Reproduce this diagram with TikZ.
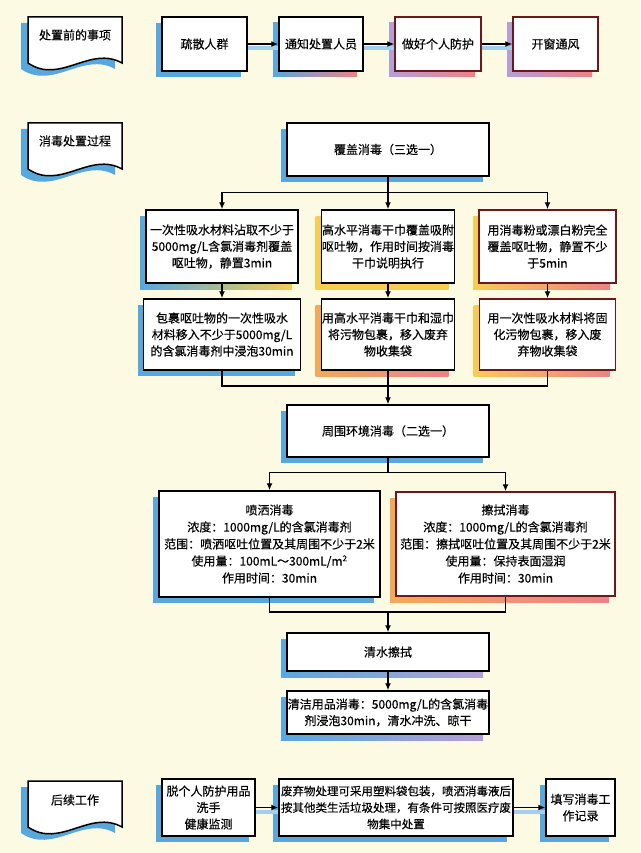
\documentclass[tikz,border=0pt]{standalone}
\usepackage{fontspec}
\setmainfont{Noto Sans CJK SC}[FakeBold=0.4]
\usetikzlibrary{arrows.meta,shadows}

\definecolor{bgcream}{RGB}{252,250,226}
\definecolor{sblue}{RGB}{88,168,222}
\definecolor{spink}{RGB}{236,130,135}
\definecolor{syellow}{RGB}{245,205,85}
\definecolor{sorange}{RGB}{242,170,90}
\definecolor{spurple}{RGB}{180,160,215}
\definecolor{bred}{RGB}{110,25,25}

\tikzset{
  box/.style={draw=black, line width=1.5pt, fill=white, align=center, inner sep=0.5pt,
    font=\fontsize{12}{16.5}\selectfont},
  blueshadow/.style={drop shadow={shadow xshift=-6pt, shadow yshift=-6pt, fill=sblue, opacity=1}},
  mixshadow/.style 2 args={drop shadow={shadow xshift=-6pt, shadow yshift=-6pt,
    left color=#1, right color=#2, opacity=1}},
  arr/.style={line width=1.3pt, -{Latex[length=7pt,width=6pt]}},
  line/.style={line width=1.3pt},
  glow/.style={line width=4pt, sblue!55},
  doc/.style={draw=black, line width=1.5pt, fill=white},
  doctext/.style={font=\fontsize{12}{16.5}\selectfont}
}

\begin{document}
\begin{tikzpicture}[x=1pt, y=-1pt]
    % Background
    \fill[bgcream] (0,0) rectangle (640,853);
    \useasboundingbox (0,0) rectangle (640,853);

    % Section labels (document shapes)
    \fill[sblue, shift={(-7,6)}] (28,17) -- (122,17) -- (122,63) .. controls (90,45) and (60,85) .. (28,63) -- cycle;
    \draw[doc] (28,17) -- (122,17) -- (122,63) .. controls (90,45) and (60,85) .. (28,63) -- cycle;
    \node[doctext] (secpre) at (75,35) {处置前的事项};

    \fill[sblue, shift={(-7,6)}] (28,123) -- (122,123) -- (122,169) .. controls (90,151) and (60,191) .. (28,169) -- cycle;
    \draw[doc] (28,123) -- (122,123) -- (122,169) .. controls (90,151) and (60,191) .. (28,169) -- cycle;
    \node[doctext] (secdis) at (75,141) {消毒处置过程};

    \fill[sblue, shift={(-7,6)}] (28,781) -- (122,781) -- (122,827) .. controls (90,809) and (60,849) .. (28,827) -- cycle;
    \draw[doc] (28,781) -- (122,781) -- (122,827) .. controls (90,809) and (60,849) .. (28,827) -- cycle;
    \node[doctext] (secpost) at (75,800) {后续工作};

    % Before disposal
    \node[box, blueshadow, minimum width=85pt, minimum height=54pt] (evac) at (204.5,44) {疏散人群};
    \node[box, mixshadow={sblue}{spink}, minimum width=84pt, minimum height=54pt] (notify) at (321,44) {通知处置人员};
    \node[box, draw=bred, mixshadow={spurple}{spink}, minimum width=86pt, minimum height=54pt] (protect) at (438,44) {做好个人防护};
    \node[box, draw=bred, mixshadow={spurple}{spink}, minimum width=85pt, minimum height=54pt] (vent) at (555.5,44) {开窗通风};

    \draw[glow] ([yshift=-4pt]evac.east) -- ([yshift=-4pt]notify.west);
    \draw[glow] ([yshift=-4pt]notify.east) -- ([yshift=-4pt]protect.west);
    \draw[glow] ([yshift=-4pt]protect.east) -- ([yshift=-4pt]vent.west);
    \draw[arr] (evac) -- (notify);
    \draw[arr] (notify) -- (protect);
    \draw[arr] (protect) -- (vent);

    % Covering disinfection
    \node[box, blueshadow, minimum width=202pt, minimum height=53pt] (cover) at (388,149.5) {覆盖消毒（三选一）};

    \node[box, mixshadow={sblue}{syellow}, minimum width=152pt, minimum height=73pt] (absorb) at (222,246.5)
        {一次性吸水材料沾取不少于\\5000mg/L含氯消毒剂覆盖\\呕吐物，静置3min};
    \node[box, mixshadow={syellow}{syellow}, minimum width=132pt, minimum height=73pt] (towel) at (388,246.5)
        {高水平消毒干巾覆盖吸附\\呕吐物，作用时间按消毒\\干巾说明执行};
    \node[box, draw=bred, mixshadow={syellow}{spink}, minimum width=137pt, minimum height=73pt] (powder) at (547.5,246.5)
        {用消毒粉或漂白粉完全\\覆盖呕吐物，静置不少\\于5min};

    \node[box, blueshadow, minimum width=157pt, minimum height=71pt] (soak) at (222,334.5)
        {包裹呕吐物的一次性吸水\\材料移入不少于5000mg/L\\的含氯消毒剂中浸泡30min};
    \node[box, mixshadow={sorange}{spink}, minimum width=132pt, minimum height=71pt] (wrap) at (388,334.5)
        {用高水平消毒干巾和湿巾\\将污物包裹，移入废弃\\物收集袋};
    \node[box, draw=bred, mixshadow={syellow}{spink}, minimum width=136pt, minimum height=71pt] (solid) at (547.5,334.5)
        {用一次性吸水材料将固\\化污物包裹，移入废\\弃物收集袋};

    \draw[arr] (cover.south) -- ++(0,16) -| (absorb.north);
    \draw[arr] (cover.south) -- (towel.north);
    \draw[arr] (cover.south) -- ++(0,16) -| (powder.north);
    \draw[arr] (absorb.south) -- (soak.north);
    \draw[arr] (towel.south) -- (wrap.north);
    \draw[arr] (powder.south) -- (solid.north);

    % Surrounding disinfection
    \coordinate (join1) at (388,386);
    \draw[line] (soak.south) |- (join1) -| (solid.south);
    \draw[line] (wrap.south) -- (join1);

    \node[box, blueshadow, minimum width=202pt, minimum height=52pt] (env) at (388,431) {周围环境消毒（二选一）};
    \draw[arr] (join1) -- (env.north);

    \node[box, blueshadow, minimum width=221pt, minimum height=106pt, font=\fontsize{12}{17}\selectfont] (spray) at (269.5,544)
        {喷洒消毒\\浓度：1000mg/L的含氯消毒剂\\范围：喷洒呕吐位置及其周围不少于2米\\使用量：100mL～300mL/m\textsuperscript{2}\\作用时间：30min};
    \node[box, draw=bred, mixshadow={sorange}{spink}, minimum width=219pt, minimum height=104pt, font=\fontsize{12}{17}\selectfont] (wipe) at (505.5,544)
        {擦拭消毒\\浓度：1000mg/L的含氯消毒剂\\范围：擦拭呕吐位置及其周围不少于2米\\使用量：保持表面湿润\\作用时间：30min};

    \draw[arr] (env.south) -- ++(0,15) -| (spray.north);
    \draw[arr] (env.south) -- ++(0,15) -| (wipe.north);

    % Rinse and clean tools
    \coordinate (join2) at (388,612);
    \draw[line] (spray.south) |- (join2) -| (wipe.south);

    \node[box, mixshadow={sblue}{spurple}, minimum width=202pt, minimum height=38pt] (rinse) at (388,652) {清水擦拭};
    \node[box, mixshadow={sblue}{spurple}, minimum width=202pt, minimum height=43pt] (tools) at (388,712.5)
        {清洁用品消毒：5000mg/L的含氯消毒\\剂浸泡30min，清水冲洗、晾干};
    \draw[arr] (join2) -- (rinse.north);
    \draw[arr] (rinse) -- (tools);

    % Follow-up work
    \node[box, blueshadow, minimum width=93pt, minimum height=57pt] (undress) at (208.5,807.5)
        {脱个人防护用品\\洗手\\健康监测};
    \node[box, blueshadow, minimum width=234pt, minimum height=57pt, font=\fontsize{11.5}{16.5}\selectfont] (waste) at (396,807.5)
        {废弃物处理可采用塑料袋包装，喷洒消毒液后\\按其他类生活垃圾处理，有条件可按照医疗废\\物集中处置};
    \node[box, blueshadow, minimum width=69pt, minimum height=57pt] (record) at (580.5,807.5)
        {填写消毒工\\作记录};

    \draw[glow] ([yshift=-4pt]undress.east) -- ([yshift=-4pt]waste.west);
    \draw[glow] ([yshift=-4pt]waste.east) -- ([yshift=-4pt]record.west);
    \draw[arr] (undress) -- (waste);
    \draw[arr] (waste) -- (record);
\end{tikzpicture}
\end{document}
